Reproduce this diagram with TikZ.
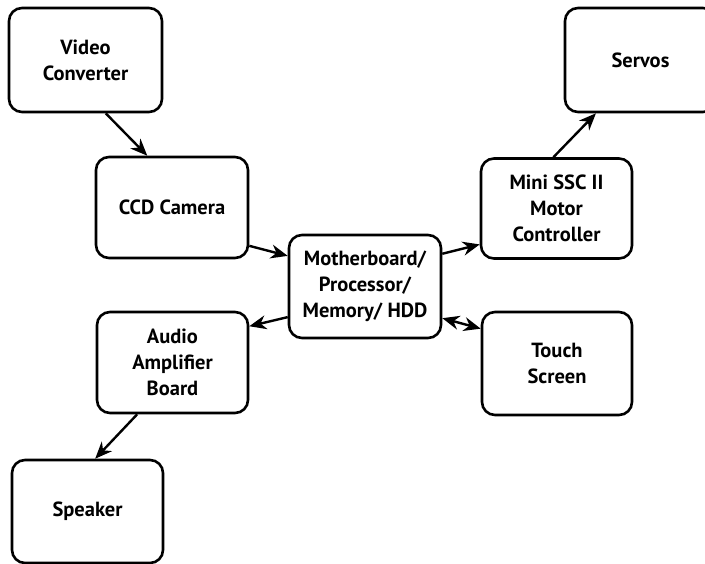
\documentclass[tikz,border=0pt]{standalone}
\usepackage{fontspec}
\setmainfont{PT Sans}
\usetikzlibrary{arrows.meta,calc}
\begin{document}
\begin{tikzpicture}[x=1pt,y=-1pt,
  blk/.style={draw,line width=2.6pt,rounded corners=13pt,align=center,
    font=\bfseries\fontsize{20.5}{26}\selectfont,inner sep=0pt},
  conn/.style={line width=2.4pt,-{Stealth[length=17pt,width=14pt]}},
  conn2/.style={line width=2.4pt,{Stealth[length=17pt,width=14pt]}-{Stealth[length=17pt,width=14pt]}}]
\useasboundingbox (0,0) rectangle (705,563);
\node[blk,minimum width=153pt,minimum height=104pt] (vc) at (85.5,60) {Video\\Converter};
\node[blk,minimum width=152pt,minimum height=101pt] (ccd) at (172,207.5) {CCD Camera};
\node[blk,minimum width=152pt,minimum height=103pt] (mb) at (365,286.5) {Motherboard/\\Processor/\\Memory/ HDD};
\node[blk,minimum width=151pt,minimum height=101pt] (aud) at (172.5,362.5) {Audio\\Amplifier\\Board};
\node[blk,minimum width=151pt,minimum height=103pt] (spk) at (87.5,511.5) {Speaker};
\node[blk,minimum width=151pt,minimum height=104pt] (srv) at (640.5,60) {Servos};
\node[blk,minimum width=151pt,minimum height=100pt] (ssc) at (556.5,208.5) {Mini SSC II\\Motor\\Controller};
\node[blk,minimum width=150pt,minimum height=103pt] (ts) at (557,363.5) {Touch\\Screen};
\draw[conn] ($(vc.south west)!0.63!(vc.south east)$) -- ($(ccd.north west)!0.34!(ccd.north east)$);
\draw[conn] ($(ccd.north east)!0.87!(ccd.south east)$) -- ($(mb.north west)!0.21!(mb.south west)$);
\draw[conn] ($(mb.north east)!0.19!(mb.south east)$) -- ($(ssc.north west)!0.85!(ssc.south west)$);
\draw[conn] ($(mb.north west)!0.79!(mb.south west)$) -- ($(aud.north east)!0.15!(aud.south east)$);
\draw[conn2] ($(mb.north east)!0.8!(mb.south east)$) -- ($(ts.north west)!0.17!(ts.south west)$);
\draw[conn] ($(ssc.north west)!0.48!(ssc.north east)$) -- ($(srv.south west)!0.21!(srv.south east)$);
\draw[conn] ($(aud.south west)!0.27!(aud.south east)$) -- ($(spk.north west)!0.55!(spk.north east)$);
\end{tikzpicture}
\end{document}
